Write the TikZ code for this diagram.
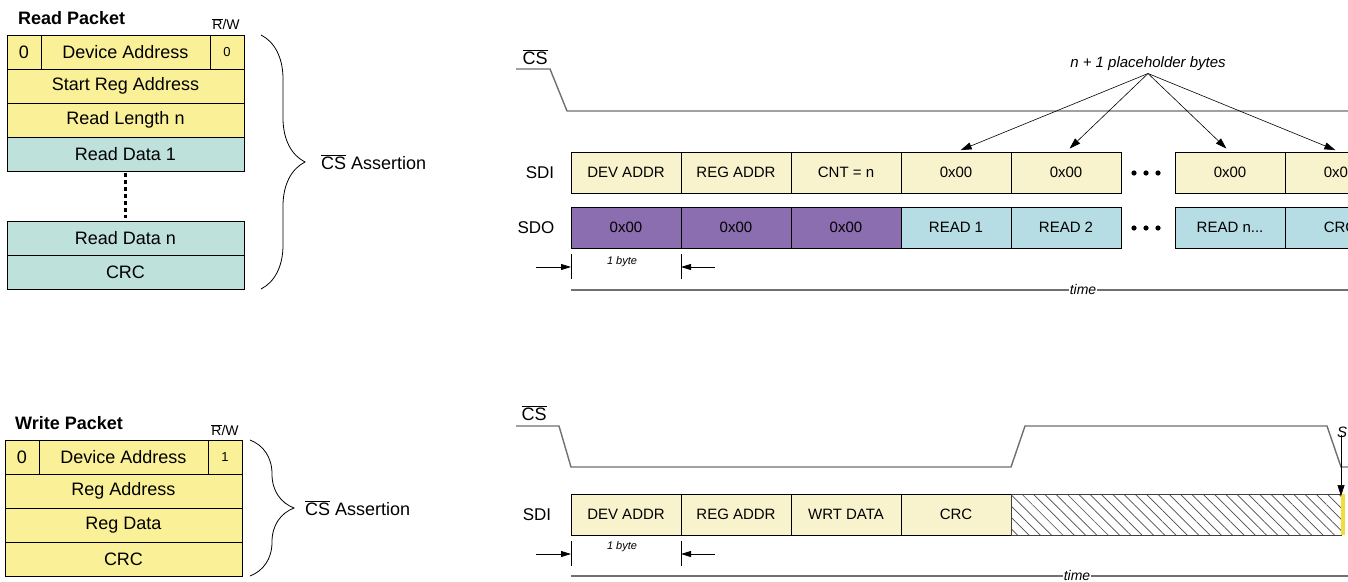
\documentclass[tikz,border=0pt]{standalone}
\usepackage{fontspec}
\setmainfont{Liberation Sans}
\usepackage{tikz}
\usetikzlibrary{positioning,calc,arrows.meta,decorations.pathreplacing,patterns.meta}

\definecolor{pktY}{RGB}{250,240,152}
\definecolor{pktT}{RGB}{190,225,220}
\definecolor{sdiY}{RGB}{248,243,205}
\definecolor{sdoP}{RGB}{138,110,175}
\definecolor{sdoT}{RGB}{181,221,227}
\definecolor{barY}{RGB}{242,222,58}
\definecolor{sigG}{RGB}{112,112,112}

\newcommand{\csbar}{$\overline{\hbox{CS}}$}
\newcommand{\rwbar}{$\overline{\hbox{R}}$/W}

\begin{document}
\begin{tikzpicture}[x=1pt,y=-1pt,
	every node/.style={font=\fontsize{18}{20}\selectfont},
	pkt/.style={draw, line width=0.8pt, inner sep=0pt, outer sep=0pt,
		minimum height=34pt},
	cell/.style={draw, line width=0.8pt, inner sep=0pt, outer sep=0pt,
		minimum width=110pt, minimum height=41pt,
		font=\fontsize{15}{17}\selectfont},
	sig/.style={sigG, line width=1.4pt},
	brc/.style={decorate, decoration={brace, amplitude=44pt}, line width=0.8pt},
	tick/.style={line width=0.8pt},
	dim/.style={-{Triangle[length=10pt,width=6pt]}, line width=0.8pt},
	small/.style={font=\fontsize{11}{13}\selectfont\itshape},
	lbl/.style={font=\fontsize{15}{17}\selectfont\itshape}]
	
	\clip (0,0) rectangle (1348,581);
	\fill[white] (0,0) rectangle (1348,581);
	
	% ---------------- read packet ----------------
	\node[anchor=west, inner sep=0pt, font=\fontsize{18}{20}\selectfont\bfseries] (rtitle) at (18,18) {Read Packet};
	\node[font=\fontsize{14}{16}\selectfont] (rrwl) at (226,24) {\rwbar};
	
	\node[pkt, fill=pktY, minimum width=34pt, anchor=north west] (r0) at (7,35) {0};
	\node[pkt, fill=pktY, minimum width=169pt, right=0pt of r0] (rdev) {Device Address};
	\node[pkt, fill=pktY, minimum width=34pt, right=0pt of rdev,
		font=\fontsize{13}{15}\selectfont] (rrw) {0};
	\node[pkt, fill=pktY, minimum width=237pt, anchor=north west] (rsra) at (r0.south west) {Start Reg Address};
	\node[pkt, fill=pktY, minimum width=237pt, anchor=north west] (rlen) at (rsra.south west) {Read Length n};
	\node[pkt, fill=pktT, minimum width=237pt, anchor=north west] (rd1) at (rlen.south west) {Read Data 1};
	\node[pkt, fill=pktT, minimum width=237pt, anchor=north west] (rdn) at (7,221) {Read Data n};
	\node[pkt, fill=pktT, minimum width=237pt, anchor=north west] (rcrc) at (rdn.south west) {CRC};
	
	% dotted gap
	\draw[line width=3pt, dash pattern=on 4pt off 3pt] ([yshift=-2pt]rd1.south) -- ([yshift=3pt]rdn.north);
	
	% brace
	\draw[brc] ([xshift=17pt]rrw.north east) -- ([xshift=17pt]rcrc.south east);
	\node[anchor=west, inner sep=0pt] (rcs) at (321,162) {\csbar{} Assertion};
	
	% ---------------- read timing ----------------
	\node (cs1) at (535,57) {\csbar};
	\draw[sig] (516,69) -- (550,69) -- (567,111) -- (1348,111);
	
	\node[font=\fontsize{17}{19}\selectfont] (sdi1) at (540,173) {SDI};
	\node[font=\fontsize{17}{19}\selectfont] (sdo1) at (536,228) {SDO};
	
	% SDI row
	\node[cell, fill=sdiY, anchor=north west] (s1) at (571,152) {DEV ADDR};
	\node[cell, fill=sdiY, right=0pt of s1] (s2) {REG ADDR};
	\node[cell, fill=sdiY, right=0pt of s2] (s3) {CNT = n};
	\node[cell, fill=sdiY, right=0pt of s3] (s4) {0x00};
	\node[cell, fill=sdiY, right=0pt of s4] (s5) {0x00};
	\node[cell, fill=sdiY, anchor=north west] (s6) at (1175,152) {0x00};
	\node[cell, fill=sdiY, right=0pt of s6] (s7) {0x00};
	
	% SDO row
	\node[cell, fill=sdoP, anchor=north west] (o1) at (571,207) {0x00};
	\node[cell, fill=sdoP, right=0pt of o1] (o2) {0x00};
	\node[cell, fill=sdoP, right=0pt of o2] (o3) {0x00};
	\node[cell, fill=sdoT, right=0pt of o3] (o4) {READ 1};
	\node[cell, fill=sdoT, right=0pt of o4] (o5) {READ 2};
	\node[cell, fill=sdoT, anchor=north west] (o6) at (1175,207) {READ n...};
	\node[cell, fill=sdoT, right=0pt of o6] (o7) {CRC};
	
	% ellipses
	\foreach \yy in {173,228}
		\foreach \xx in {1134,1146,1158}
			\fill (\xx,\yy) circle (2.6pt);
	
	% placeholder bytes
	\node[lbl] (ph) at (1148,64) {n + 1 placeholder bytes};
	\foreach \c in {s4,s5,s6,s7}
		\draw[-{Triangle[length=11pt,width=7pt]}, line width=0.6pt, shorten >=5pt]
			([yshift=1pt]ph.south) -- (\c.north);
	
	% one byte
	\draw[tick] (571,254) -- (571,279);
	\draw[tick] (681,254) -- (681,279);
	\draw[dim] (536,267) -- (571,267);
	\draw[dim] (715,267) -- (681,267);
	\node[small] (by1) at (622,262) {1 byte};
	
	% time axis
	\draw[sig] (571,290) -- (1348,290);
	\node[font=\fontsize{14}{16}\selectfont\itshape, fill=white, inner sep=1pt] (t1) at (1083,289) {time};
	
	% ---------------- write packet ----------------
	\node[anchor=west, inner sep=0pt, font=\fontsize{18}{20}\selectfont\bfseries] (wtitle) at (15,423) {Write Packet};
	\node[font=\fontsize{14}{16}\selectfont] (wrwl) at (225,430) {\rwbar};
	
	\node[pkt, fill=pktY, minimum width=34pt, anchor=north west] (w0) at (5,440) {0};
	\node[pkt, fill=pktY, minimum width=169pt, right=0pt of w0] (wdev) {Device Address};
	\node[pkt, fill=pktY, minimum width=34pt, right=0pt of wdev,
		font=\fontsize{13}{15}\selectfont] (wrw) {1};
	\node[pkt, fill=pktY, minimum width=237pt, anchor=north west] (wra) at (w0.south west) {Reg Address};
	\node[pkt, fill=pktY, minimum width=237pt, anchor=north west] (wrd) at (wra.south west) {Reg Data};
	\node[pkt, fill=pktY, minimum width=237pt, anchor=north west] (wcrc) at (wrd.south west) {CRC};
	
	% brace
	\draw[brc] ([xshift=8pt]wrw.north east) -- ([xshift=8pt]wcrc.south east);
	\node[anchor=west, inner sep=0pt] (wcs) at (305,508) {\csbar{} Assertion};
	
	% ---------------- write timing ----------------
	\node (cs2) at (534,413) {\csbar};
	\draw[sig] (516,426) -- (559,426) -- (571,467) -- (1011,467) -- (1025,426)
		-- (1327,426) -- (1341,467) -- (1348,467);
	
	\node[font=\fontsize{17}{19}\selectfont] (sdi2) at (537,515) {SDI};
	
	\node[cell, fill=sdiY, anchor=north west] (w1) at (571,494) {DEV ADDR};
	\node[cell, fill=sdiY, right=0pt of w1] (w2) {REG ADDR};
	\node[cell, fill=sdiY, right=0pt of w2] (w3) {WRT DATA};
	\node[cell, fill=sdiY, right=0pt of w3] (w4) {CRC};
	\node[cell, draw=black!75, minimum width=330pt, right=0pt of w4,
		pattern={Lines[angle=-45,distance=8pt,line width=0.7pt]}, pattern color=black!70] (hatch) {};
	\node[cell, fill=barY, draw=none, minimum width=4pt, right=0pt of hatch] (yb) {};
	
	% next packet marker
	\node[lbl, anchor=west, inner sep=0pt] (nxt) at (1337,432) {S};
	\draw[-{Triangle[length=11pt,width=7pt]}, line width=0.6pt]
		([yshift=3pt]yb.north west |- nxt.south) -- ([yshift=-2pt]yb.north west);
	
	% one byte
	\draw[tick] (571,541) -- (571,566);
	\draw[tick] (681,541) -- (681,566);
	\draw[dim] (536,554) -- (571,554);
	\draw[dim] (715,554) -- (681,554);
	\node[small] (by2) at (622,547) {1 byte};
	
	% time axis
	\draw[sig] (571,576) -- (1348,576);
	\node[font=\fontsize{14}{16}\selectfont\itshape, fill=white, inner sep=1pt] (t2) at (1077,575) {time};
	
\end{tikzpicture}
\end{document}
